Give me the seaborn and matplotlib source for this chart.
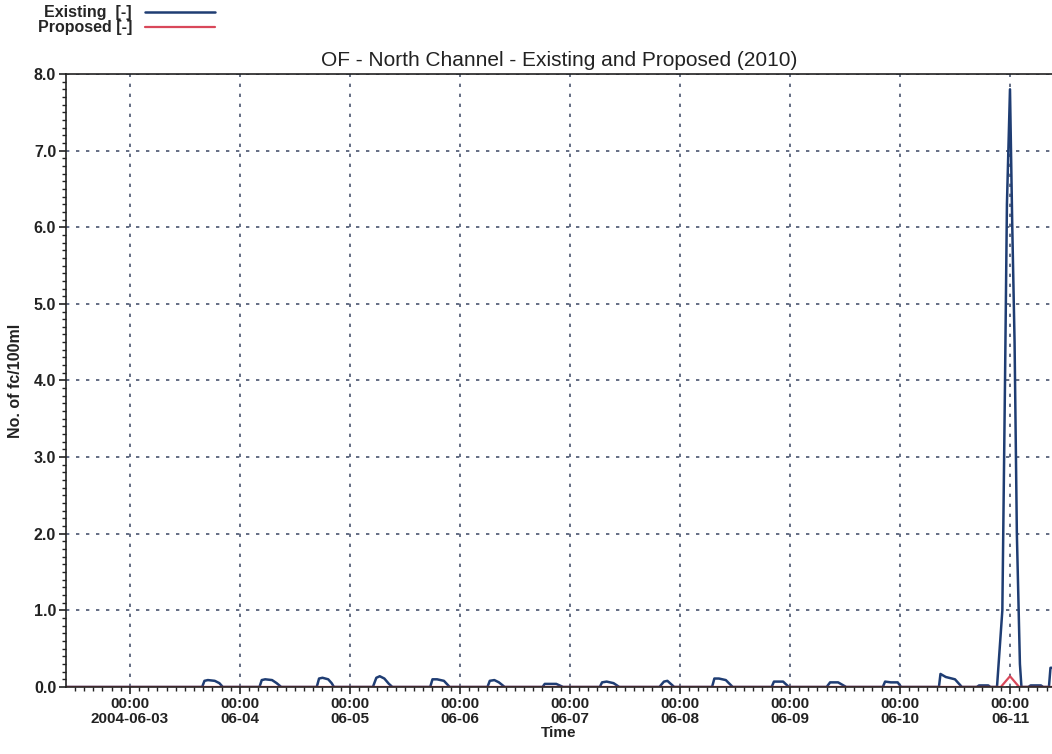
import pandas as pd
import matplotlib.pyplot as plt
import matplotlib.dates as mdates
import seaborn as sns

# Existing series (breakpoints)
existing_time = [
    "2004-06-02 10:00",
    "2004-06-03 15:45", "2004-06-03 16:15", "2004-06-03 17:00", "2004-06-03 18:30", "2004-06-03 19:30", "2004-06-03 20:15",
    "2004-06-04 04:15", "2004-06-04 04:45", "2004-06-04 05:30", "2004-06-04 07:00", "2004-06-04 08:00", "2004-06-04 09:00",
    "2004-06-04 16:45", "2004-06-04 17:15", "2004-06-04 18:00", "2004-06-04 19:15", "2004-06-04 20:00", "2004-06-04 20:30",
    "2004-06-05 05:00", "2004-06-05 05:45", "2004-06-05 06:30", "2004-06-05 07:30", "2004-06-05 08:30", "2004-06-05 09:15",
    "2004-06-05 17:30", "2004-06-05 18:00", "2004-06-05 19:00", "2004-06-05 20:30", "2004-06-05 21:45",
    "2004-06-06 06:00", "2004-06-06 06:30", "2004-06-06 07:30", "2004-06-06 08:30", "2004-06-06 09:45",
    "2004-06-06 18:00", "2004-06-06 18:30", "2004-06-06 21:00", "2004-06-06 22:30",
    "2004-06-07 06:30", "2004-06-07 07:00", "2004-06-07 08:00", "2004-06-07 09:30", "2004-06-07 10:45",
    "2004-06-07 19:30", "2004-06-07 20:30", "2004-06-07 21:15", "2004-06-07 22:00", "2004-06-07 22:45",
    "2004-06-08 07:00", "2004-06-08 07:30", "2004-06-08 08:30", "2004-06-08 10:00", "2004-06-08 11:30",
    "2004-06-08 20:00", "2004-06-08 20:30", "2004-06-08 22:30", "2004-06-08 23:45",
    "2004-06-09 08:00", "2004-06-09 08:45", "2004-06-09 10:30", "2004-06-09 12:15",
    "2004-06-09 20:15", "2004-06-09 20:45", "2004-06-09 22:00", "2004-06-09 23:30", "2004-06-10 00:15",
    "2004-06-10 08:30", "2004-06-10 08:50", "2004-06-10 10:00", "2004-06-10 12:00", "2004-06-10 13:30",
    "2004-06-10 16:45", "2004-06-10 17:15", "2004-06-10 19:15", "2004-06-10 19:45",
    "2004-06-10 21:10", "2004-06-10 22:20", "2004-06-10 22:55", "2004-06-10 23:20", "2004-06-11 00:00",
    "2004-06-11 00:30", "2004-06-11 01:00", "2004-06-11 01:30", "2004-06-11 02:10", "2004-06-11 02:30",
    "2004-06-11 04:00", "2004-06-11 04:30", "2004-06-11 06:45", "2004-06-11 07:15",
    "2004-06-11 08:30", "2004-06-11 08:50", "2004-06-11 09:30",
]
existing_value = [
    0.0,
    0.0, 0.08, 0.09, 0.08, 0.05, 0.0,
    0.0, 0.09, 0.10, 0.09, 0.05, 0.0,
    0.0, 0.11, 0.12, 0.10, 0.05, 0.0,
    0.0, 0.12, 0.14, 0.11, 0.04, 0.0,
    0.0, 0.10, 0.10, 0.08, 0.0,
    0.0, 0.08, 0.09, 0.06, 0.0,
    0.0, 0.04, 0.04, 0.0,
    0.0, 0.06, 0.07, 0.05, 0.0,
    0.0, 0.07, 0.08, 0.04, 0.0,
    0.0, 0.11, 0.11, 0.09, 0.0,
    0.0, 0.07, 0.07, 0.0,
    0.0, 0.06, 0.06, 0.0,
    0.0, 0.07, 0.06, 0.06, 0.0,
    0.0, 0.17, 0.13, 0.10, 0.0,
    0.0, 0.02, 0.02, 0.0,
    0.0, 1.0, 4.0, 6.3, 7.8,
    6.0, 4.5, 2.0, 0.3, 0.0,
    0.0, 0.02, 0.02, 0.0,
    0.0, 0.25, 0.25,
]

proposed_time = ["2004-06-02 10:00", "2004-06-10 22:00", "2004-06-11 00:00", "2004-06-11 02:00", "2004-06-11 09:30"]
proposed_value = [0.0, 0.0, 0.14, 0.0, 0.0]

day_ticks = pd.date_range("2004-06-03", "2004-06-11", freq="D")
day_labels = ["00:00\n2004-06-03"] + ["00:00\n" + d.strftime("%m-%d") for d in day_ticks[1:]]

existing = pd.DataFrame({"time": pd.to_datetime(existing_time), "value": existing_value})
proposed = pd.DataFrame({"time": pd.to_datetime(proposed_time), "value": proposed_value})

sns.set_style("ticks")
plt.rcParams["font.family"] = ["Liberation Sans", "DejaVu Sans"]

fig = plt.figure(figsize=(10.52, 7.54), dpi=100)
ax = fig.add_axes([0.0627, 0.0889, 0.9373, 0.813])

sns.lineplot(data=existing, x="time", y="value", ax=ax, color="#1f3d73", lw=1.8, label="Existing  [-]")
sns.lineplot(data=proposed, x="time", y="value", ax=ax, color="#d9485a", lw=1.6, label="Proposed [-]")

ax.set_xlim(pd.Timestamp("2004-06-02 10:02"), pd.Timestamp("2004-06-11 09:10"))
ax.set_ylim(0, 8.0)

ax.set_xticks(day_ticks)
ax.set_xticklabels(day_labels, fontsize=11, fontweight="bold", color="#222222", linespacing=1.15)
ax.xaxis.set_minor_locator(mdates.HourLocator(byhour=range(0, 24, 2)))
ax.set_yticks([i * 1.0 for i in range(9)])
ax.set_yticklabels([f"{i:.1f}" for i in range(9)], fontsize=11.5, fontweight="bold", color="#222222")
ax.yaxis.set_minor_locator(plt.MultipleLocator(0.1))
ax.tick_params(axis="both", which="major", direction="out", length=5, width=1.2, color="#222222", pad=2)
ax.tick_params(axis="both", which="minor", direction="out", length=3, width=1.0, color="#222222")
ax.tick_params(axis="x", which="both", top=False)
ax.tick_params(axis="y", which="both", right=False)

ax.grid(True, which="major", linestyle=(0, (2, 4)), color="#4a5570", lw=1.2)
ax.spines["right"].set_visible(False)
for side in ["left", "bottom", "top"]:
    ax.spines[side].set_color("#222222")
    ax.spines[side].set_linewidth(1.2)

ax.set_xlabel("Time", fontsize=11, fontweight="bold", color="#222222", labelpad=0)
ax.set_ylabel("No. of fc/100ml", fontsize=11.5, fontweight="bold", color="#222222", labelpad=8)
ax.set_title("OF - North Channel - Existing and Proposed (2010)", fontsize=15, color="#222222", pad=6)

ax.get_legend().remove()
handles, labels = ax.get_legend_handles_labels()
fig.legend(handles, labels, loc="upper left", bbox_to_anchor=(0.022, 1.012), frameon=False,
           markerfirst=False, prop={"weight": "bold", "size": 11.5},
           handlelength=4.4, labelspacing=0.0, handletextpad=0.8)

fig.savefig("out.png", dpi=100)
